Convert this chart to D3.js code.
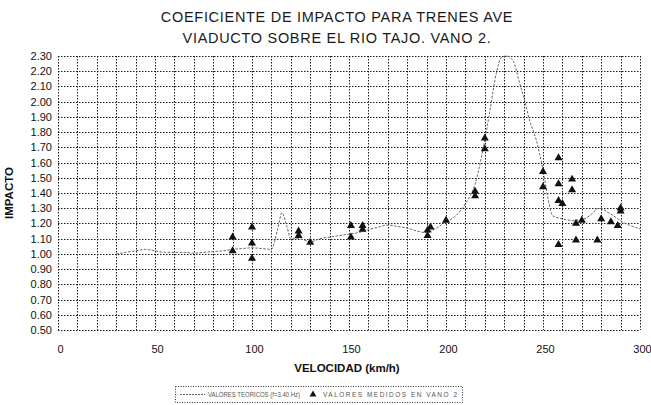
<!DOCTYPE html>
<html>
<head>
<meta charset="utf-8">
<script src="https://cdn.jsdelivr.net/npm/d3@7"></script>
<style>
  html, body { margin: 0; padding: 0; background: #fff; }
  svg { display: block; font-family: "Liberation Sans", Arial, sans-serif; }
</style>
</head>
<body>
<svg id="chart" width="651" height="405"></svg>
<script>
// Theoretical impact coefficient curve (f = 3.40 Hz)
const curveSpeed = [30, 35, 40, 45, 50, 55, 60, 65, 70, 75, 80, 85, 90, 95, 100, 105, 110, 113, 115.5, 118, 120, 124, 130, 135, 140, 145, 150, 155, 160, 165, 170, 175, 180, 185, 190, 195, 200, 205, 210, 215, 219, 222.5, 226, 228.5, 231, 234.5, 238, 240.5, 243, 246.5, 250, 252.5, 255, 260, 265, 270, 274, 279, 284.5, 291, 300];
const curveImpact = [1.00, 1.01, 1.02, 1.03, 1.02, 1.01, 1.01, 1.01, 1.005, 1.01, 1.015, 1.02, 1.03, 1.035, 1.04, 1.035, 1.03, 1.15, 1.27, 1.18, 1.10, 1.10, 1.08, 1.10, 1.11, 1.12, 1.13, 1.14, 1.16, 1.175, 1.19, 1.18, 1.17, 1.15, 1.14, 1.17, 1.21, 1.25, 1.33, 1.46, 1.68, 1.93, 2.19, 2.29, 2.30, 2.27, 2.12, 2.01, 1.88, 1.75, 1.55, 1.37, 1.25, 1.23, 1.22, 1.225, 1.25, 1.30, 1.265, 1.21, 1.165];

// Measured values on span 2
const measuredSpeed = [90, 90, 100, 100, 100, 124, 124, 130, 151, 151, 157, 157, 190.5, 190.5, 192, 200, 215, 215, 220, 220, 250, 250, 258, 258, 258, 258, 260, 265, 265, 267, 267, 270, 278, 280, 285, 288.5, 290, 290];
const measuredImpact = [1.11, 1.02, 1.175, 1.07, 0.97, 1.15, 1.12, 1.075, 1.185, 1.11, 1.185, 1.16, 1.155, 1.12, 1.175, 1.22, 1.41, 1.38, 1.76, 1.69, 1.54, 1.44, 1.63, 1.46, 1.35, 1.06, 1.33, 1.49, 1.42, 1.20, 1.09, 1.22, 1.09, 1.23, 1.21, 1.185, 1.30, 1.28];

const xTicks = [0, 50, 100, 150, 200, 250, 300];
const yTicks = [0.5, 0.6, 0.7, 0.8, 0.9, 1.0, 1.1, 1.2, 1.3, 1.4, 1.5, 1.6, 1.7, 1.8, 1.9, 2.0, 2.1, 2.2, 2.3];
const xGrid = d3.range(0, 301, 10);

const titleLines = ["COEFICIENTE DE IMPACTO PARA TRENES AVE", "VIADUCTO SOBRE EL RIO TAJO. VANO 2."];
const xTitle = "VELOCIDAD (km/h)";
const yTitle = "IMPACTO";
const legendCurve = "VALORES TEORICOS (f=3.40 Hz)";
const legendPoints = "VALORES MEDIDOS EN VANO 2";

const svg = d3.select("#chart");
const plot = { left: 58, right: 640, top: 56, bottom: 330 };

const x = d3.scaleLinear().domain([0, 300]).range([plot.left, plot.right]);
const y = d3.scaleLinear().domain([0.5, 2.3]).range([plot.bottom, plot.top]);

svg.append("rect").attr("width", 651).attr("height", 405).attr("fill", "#fff");

// Dotted grid
const grid = svg.append("g").attr("stroke", "#1a1a1a").attr("stroke-width", 1)
  .attr("stroke-dasharray", "1.5,1.5").attr("fill", "none");
grid.selectAll("line.v").data(xGrid).join("line").attr("class", "v")
  .attr("x1", d => Math.round(x(d)) + 0.5).attr("x2", d => Math.round(x(d)) + 0.5)
  .attr("y1", plot.top).attr("y2", plot.bottom);
grid.selectAll("line.h").data(yTicks).join("line").attr("class", "h")
  .attr("y1", d => Math.round(y(d)) + 0.5).attr("y2", d => Math.round(y(d)) + 0.5)
  .attr("x1", plot.left).attr("x2", plot.right);

// Axes (labels only)
const yAxis = svg.append("g").attr("transform", `translate(${plot.left},0)`)
  .call(d3.axisLeft(y).tickValues(yTicks).tickFormat(d3.format(".2f")).tickSize(0).tickPadding(6));
yAxis.select(".domain").remove();
yAxis.selectAll("text").attr("font-size", 11).attr("fill", "#111")
  .attr("font-family", "'Liberation Sans', Arial, sans-serif");

const xAxis = svg.append("g").attr("transform", `translate(2,${plot.bottom + 1})`)
  .call(d3.axisBottom(x).tickValues(xTicks).tickFormat(d3.format("d")).tickSize(0).tickPadding(14));
xAxis.select(".domain").remove();
xAxis.selectAll("text").attr("font-size", 11).attr("fill", "#111")
  .attr("font-family", "'Liberation Sans', Arial, sans-serif");

// Theoretical curve
const line = d3.line().x((d, i) => x(curveSpeed[i])).y(d => y(d)).curve(d3.curveMonotoneX);
svg.append("path").datum(curveImpact)
  .attr("d", line).attr("fill", "none").attr("stroke", "#666")
  .attr("stroke-width", 1).attr("stroke-dasharray", "2.5,1.5");

// Measured points
const tri = d3.symbol().type(d3.symbolTriangle).size(28);
svg.append("g").selectAll("path").data(measuredImpact).join("path")
  .attr("d", tri)
  .attr("transform", (d, i) => `translate(${x(measuredSpeed[i])},${y(d)})`)
  .attr("fill", "#111");

// Titles
svg.append("g").selectAll("text").data(titleLines).join("text")
  .attr("x", 337).attr("y", (d, i) => 22 + i * 21)
  .attr("text-anchor", "middle").attr("font-size", 14.5).attr("letter-spacing", 0.7)
  .attr("fill", "#1a1a1a")
  .text(d => d);

svg.append("text").attr("x", 347).attr("y", 372).attr("text-anchor", "middle")
  .attr("font-size", 11.5).attr("font-weight", "bold").attr("fill", "#111").text(xTitle);

svg.append("text").attr("transform", "translate(13,193) rotate(-90)")
  .attr("text-anchor", "middle").attr("font-size", 11.5).attr("font-weight", "bold")
  .attr("fill", "#111").text(yTitle);

// Legend
const lg = svg.append("g");
lg.append("rect").attr("x", 175.5).attr("y", 386.5).attr("width", 287).attr("height", 16)
  .attr("fill", "none").attr("stroke", "#333").attr("stroke-dasharray", "1,1.5");
lg.append("line").attr("x1", 180).attr("x2", 205).attr("y1", 394.5).attr("y2", 394.5)
  .attr("stroke", "#666").attr("stroke-dasharray", "2,1");
lg.append("text").attr("x", 208).attr("y", 397).attr("font-size", 6.5).attr("fill", "#555")
  .attr("textLength", 92).attr("lengthAdjust", "spacingAndGlyphs").text(legendCurve);
lg.append("path").attr("d", d3.symbol().type(d3.symbolTriangle).size(20))
  .attr("transform", "translate(313,394.5)").attr("fill", "#111");
lg.append("text").attr("x", 323).attr("y", 397).attr("font-size", 6.5).attr("fill", "#555")
  .attr("textLength", 134).attr("lengthAdjust", "spacing").text(legendPoints);
</script>
</body>
</html>
